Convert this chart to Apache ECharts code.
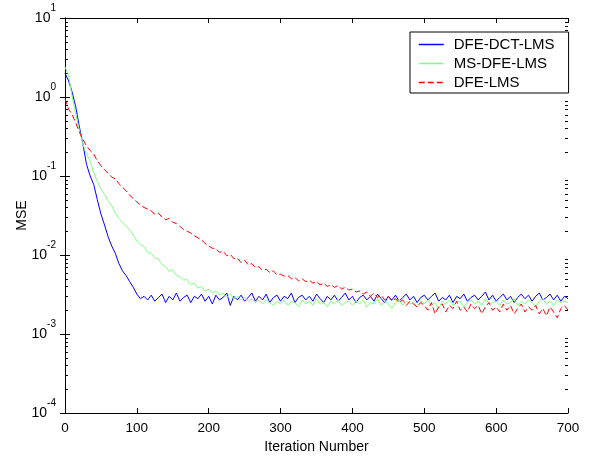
<!DOCTYPE html>
<html>
<head>
<meta charset="utf-8">
<script src="https://cdn.jsdelivr.net/npm/echarts@6/dist/echarts.min.js"></script>
<style>
  html, body { margin: 0; padding: 0; background: #fff; }
  #chart { width: 592px; height: 459px; }
</style>
</head>
<body>
<div id="chart"></div>
<script>
// one value every 5 iterations, rows of 100 iterations
const step = 5

const dctLms = [
  2.0, 1.6, 1.15, 0.75, 0.42, 0.25, 0.14, 0.1, 0.078, 0.05, 0.033, 0.024, 0.017, 0.013, 0.0105, 0.0078, 0.0063, 0.0055, 0.0046, 0.0039,
  0.0032, 0.0028, 0.0030, 0.0027, 0.0031, 0.0026, 0.0029, 0.0032, 0.0025, 0.0030, 0.0027, 0.0033, 0.0026, 0.0029, 0.0031, 0.0025, 0.0030, 0.0028, 0.0032, 0.0026,
  0.0030, 0.0024, 0.0031, 0.0027, 0.0029, 0.0033, 0.0023, 0.0030, 0.0027, 0.0031, 0.0026, 0.0029, 0.0033, 0.0026, 0.0030, 0.0027, 0.0032, 0.0025, 0.0029, 0.0031,
  0.0026, 0.0030, 0.0028, 0.0033, 0.0025, 0.0029, 0.0031, 0.0027, 0.0030, 0.0026, 0.0032, 0.0028, 0.0025, 0.0030, 0.0027, 0.0031, 0.0026, 0.0029, 0.0033, 0.0027,
  0.0030, 0.0025, 0.0029, 0.0031, 0.0027, 0.0030, 0.0026, 0.0032, 0.0028, 0.0025, 0.0030, 0.0027, 0.0031, 0.0026, 0.0029, 0.0032, 0.0027, 0.0030, 0.0025, 0.0029,
  0.0031, 0.0027, 0.0030, 0.0033, 0.0026, 0.0029, 0.0027, 0.0031, 0.0025, 0.0030, 0.0028, 0.0032, 0.0026, 0.0029, 0.0031, 0.0027, 0.0030, 0.0034, 0.0027, 0.0031,
  0.0026, 0.0029, 0.0032, 0.0027, 0.0030, 0.0025, 0.0029, 0.0032, 0.0028, 0.0031, 0.0026, 0.0030, 0.0033, 0.0027, 0.0029, 0.0032, 0.0027, 0.0031, 0.0026, 0.0030,
  0.0028
]

const msDfeLms = [
  2.4, 1.9, 1.0, 0.6, 0.38, 0.25, 0.19, 0.155, 0.11, 0.085, 0.068, 0.058, 0.048, 0.042, 0.034, 0.029, 0.026, 0.023, 0.021, 0.018,
  0.015, 0.0135, 0.0128, 0.0108, 0.0105, 0.0092, 0.0089, 0.0076, 0.0071, 0.0062, 0.0065, 0.0055, 0.0053, 0.0048, 0.0049, 0.0042, 0.0044, 0.0038, 0.0040, 0.0035,
  0.0037, 0.0033, 0.0035, 0.0031, 0.0033, 0.0029, 0.0032, 0.0028, 0.0030, 0.0027, 0.0029, 0.0026, 0.0028, 0.0025, 0.0027, 0.0024, 0.0027, 0.0025, 0.0023, 0.0026,
  0.0024, 0.0027, 0.0023, 0.0026, 0.0025, 0.0022, 0.0027, 0.0024, 0.0026, 0.0023, 0.0028, 0.0024, 0.0025, 0.0022, 0.0026, 0.0024, 0.0027, 0.0023, 0.0025, 0.0026,
  0.0023, 0.0026, 0.0024, 0.0027, 0.0022, 0.0025, 0.0024, 0.0028, 0.0023, 0.0026, 0.0024, 0.0021, 0.0025, 0.0027, 0.0023, 0.0026, 0.0024, 0.0025, 0.0022, 0.0026,
  0.0024, 0.0027, 0.0023, 0.0025, 0.0021, 0.0026, 0.0024, 0.0027, 0.0023, 0.0025, 0.0026, 0.0022, 0.0025, 0.0027, 0.0024, 0.0026, 0.0023, 0.0028, 0.0024, 0.0025,
  0.0026, 0.0023, 0.0027, 0.0024, 0.0025, 0.0028, 0.0023, 0.0026, 0.0024, 0.0027, 0.0025, 0.0022, 0.0026, 0.0028, 0.0024, 0.0026, 0.0023, 0.0027, 0.0025, 0.0026,
  0.0025
]

const dfeLms = [
  0.95, 0.7, 0.6, 0.47, 0.36, 0.29, 0.24, 0.21, 0.19, 0.155, 0.135, 0.12, 0.108, 0.097, 0.092, 0.08, 0.072, 0.065, 0.057, 0.052,
  0.047, 0.043, 0.040, 0.038, 0.036, 0.033, 0.034, 0.030, 0.028, 0.029, 0.026, 0.025, 0.023, 0.021, 0.020, 0.019, 0.0175, 0.0165, 0.0155, 0.014,
  0.013, 0.0122, 0.0120, 0.0108, 0.0112, 0.0098, 0.0102, 0.0090, 0.0091, 0.0080, 0.0086, 0.0075, 0.0078, 0.0069, 0.0071, 0.0064, 0.0066, 0.0060, 0.0063, 0.0056,
  0.0057, 0.0054, 0.0055, 0.0050, 0.0052, 0.0047, 0.0050, 0.0046, 0.0048, 0.0044, 0.0046, 0.0042, 0.0044, 0.0040, 0.0042, 0.0039, 0.0041, 0.0037, 0.0039, 0.0036,
  0.0037, 0.0034, 0.0035, 0.0032, 0.0034, 0.0030, 0.0033, 0.0029, 0.0031, 0.0027, 0.0030, 0.0026, 0.0028, 0.0025, 0.0027, 0.0023, 0.0026, 0.0024, 0.0022, 0.0025,
  0.0023, 0.0020, 0.0025, 0.0018, 0.0022, 0.0024, 0.0019, 0.0023, 0.0021, 0.0026, 0.0020, 0.0022, 0.0019, 0.0024, 0.0021, 0.0023, 0.0018, 0.0022, 0.0025, 0.0020,
  0.0022, 0.0019, 0.0024, 0.0020, 0.0023, 0.0018, 0.0021, 0.0024, 0.0019, 0.0022, 0.0020, 0.0023, 0.0018, 0.0021, 0.0017, 0.0022, 0.0019, 0.0016, 0.0021, 0.0023,
  0.0020
]

const seriesNames = ['DFE-DCT-LMS', 'MS-DFE-LMS', 'DFE-LMS']

// 2..9 x 10^k minor ticks on the log axis
const minorTicks = []
for (let k = -4; k < 1; k++) {
  for (let m = 2; m <= 9; m++) minorTicks.push(m * Math.pow(10, k))
}

const font = 'Liberation Sans, Arial, sans-serif'

function toPairs(values) {
  return values.map((v, i) => [i * step, v])
}

const chart = echarts.init(document.getElementById('chart'), null, { renderer: 'canvas' })

const axisLine = { show: true, lineStyle: { color: '#000', width: 1 } }

const option = {
  animation: false,
  backgroundColor: '#fff',
  grid: { left: 65, right: 24, top: 18, bottom: 46 },
  legend: {
    data: seriesNames,
    orient: 'vertical',
    left: 410,
    top: 32,
    padding: [5, 14, 3, 8],
    itemWidth: 25,
    itemHeight: 12,
    itemGap: 4,
    backgroundColor: '#fff',
    borderColor: '#000',
    borderWidth: 1,
    borderRadius: 0,
    itemStyle: { opacity: 0 },
    lineStyle: { width: 1.5 },
    textStyle: { fontFamily: font, fontSize: 15, color: '#000', padding: [0, 0, 0, 5] }
  },
  xAxis: [
    {
      type: 'value',
      min: 0,
      max: 700,
      interval: 100,
      name: 'Iteration Number',
      nameLocation: 'middle',
      nameGap: 27,
      nameMoveOverlap: false,
      nameTextStyle: { fontFamily: font, fontSize: 14, color: '#000' },
      axisLine: axisLine,
      axisTick: { inside: true, length: 5, lineStyle: { color: '#000' } },
      axisLabel: { fontFamily: font, fontSize: 13.5, color: '#000', margin: 8 },
      splitLine: { show: false }
    },
    {
      type: 'value',
      position: 'top',
      min: 0,
      max: 700,
      interval: 100,
      axisLine: axisLine,
      axisTick: { inside: true, length: 5, lineStyle: { color: '#000' } },
      axisLabel: { show: false },
      splitLine: { show: false }
    }
  ],
  yAxis: [
    {
      type: 'log',
      logBase: 10,
      min: 1e-4,
      max: 10,
      name: 'MSE',
      nameLocation: 'middle',
      nameGap: 36,
      nameMoveOverlap: false,
      nameTextStyle: { fontFamily: font, fontSize: 14, color: '#000' },
      axisLine: axisLine,
      axisTick: { inside: true, length: 5, lineStyle: { color: '#000' } },
      axisLabel: {
        margin: 9,
        formatter: value => '{b|10}{s|' + Math.round(Math.log10(value)) + '}',
        rich: {
          b: { fontFamily: font, fontSize: 14, color: '#000', lineHeight: 30, verticalAlign: 'middle' },
          s: { fontFamily: font, fontSize: 10, color: '#000', lineHeight: 8, verticalAlign: 'top' }
        }
      },
      splitLine: { show: false }
    },
    {
      type: 'log',
      logBase: 10,
      position: 'right',
      min: 1e-4,
      max: 10,
      axisLine: axisLine,
      axisTick: { inside: true, length: 5, lineStyle: { color: '#000' } },
      axisLabel: { show: false },
      splitLine: { show: false }
    }
  ],
  series: [
    {
      name: seriesNames[0],
      type: 'line',
      data: toPairs(dctLms),
      symbol: 'none',
      color: '#0000ff',
      lineStyle: { width: 1, color: '#0000ff' }
    },
    {
      name: seriesNames[1],
      type: 'line',
      data: toPairs(msDfeLms),
      symbol: 'none',
      color: '#80ff80',
      lineStyle: { width: 1, color: '#80ff80' }
    },
    {
      name: seriesNames[2],
      type: 'line',
      data: toPairs(dfeLms),
      symbol: 'none',
      color: '#ff0000',
      lineStyle: { width: 1, color: '#ff0000', type: [6, 3] }
    },
    {
      type: 'custom',
      silent: true,
      data: minorTicks.map(v => [0, v]),
      renderItem: (params, api) => {
        const cs = params.coordSys
        const y = Math.round(api.coord([0, api.value(1)])[1]) + 0.5
        const style = { stroke: '#000', lineWidth: 1 }
        return {
          type: 'group',
          children: [
            { type: 'line', shape: { x1: cs.x, y1: y, x2: cs.x + 3, y2: y }, style: style },
            { type: 'line', shape: { x1: cs.x + cs.width - 3, y1: y, x2: cs.x + cs.width, y2: y }, style: style }
          ]
        }
      }
    }
  ]
}

chart.setOption(option)
</script>
</body>
</html>
